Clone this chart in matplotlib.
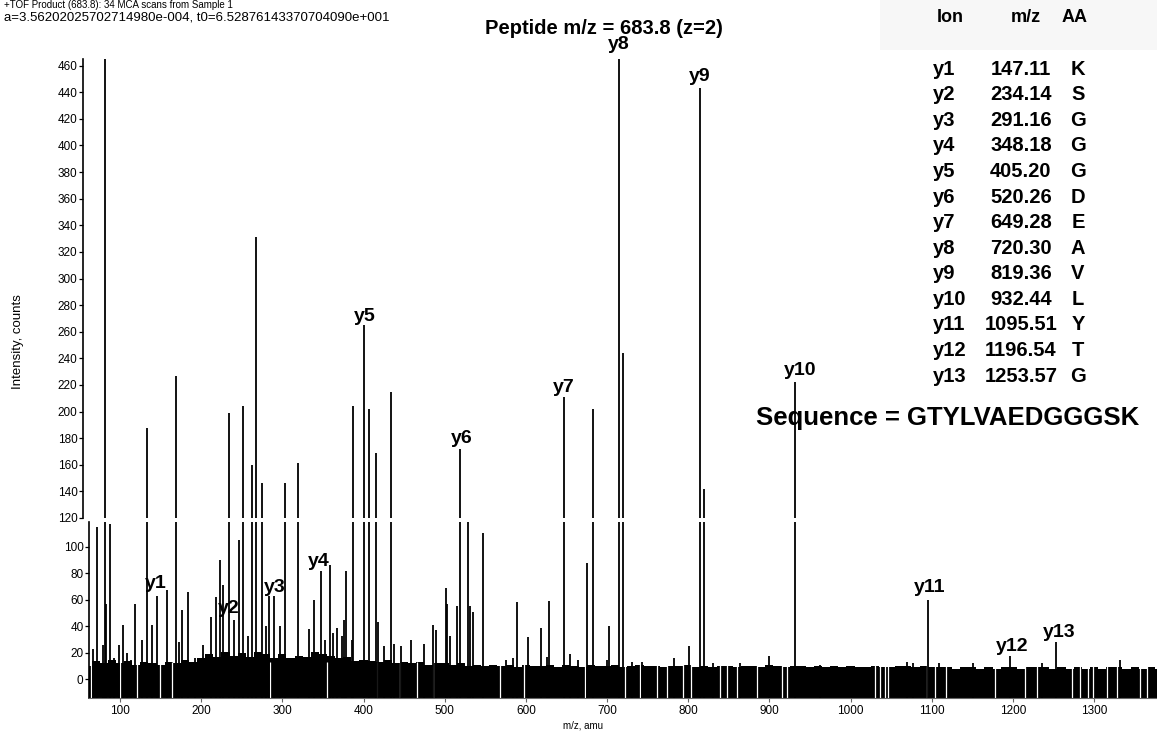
import matplotlib.pyplot as plt
from matplotlib.patches import Rectangle

plt.rcParams['font.family'] = ['Liberation Sans', 'DejaVu Sans']

W, H = 1157, 732

# 峰 (m/z, 强度)
peak_mz = [81.5, 87.7, 132.9, 169.0, 234.3, 251.2, 262.6, 267.6, 274.6, 302.9,
           319.7, 387.4, 401.0, 407.2, 415.0, 433.9, 518.9, 528.4, 647.0, 683.1,
           715.1, 720.1, 814.6, 819.9, 931.6,
           67.1, 71.3, 79.4, 82.8, 92.6, 99.1, 103.3, 108.3, 113.6, 118.5,
           126.7, 139.0, 145.2, 157.5, 172.7, 176.0, 184.1, 192.4, 201.9, 211.8,
           218.3, 223.2, 226.5, 240.4, 247.0, 258.0, 279.5, 283.9, 289.7, 297.1,
           333.2, 339.4, 347.3, 352.6, 358.7, 362.8, 367.7, 373.1, 376.0, 378.1,
           385.8, 417.9, 425.6, 437.9, 446.2, 458.5, 474.9, 485.3, 489.3, 501.3,
           503.2, 506.6, 515.6, 531.2, 534.6, 546.9, 575.6, 584.6, 589.5, 602.3,
           618.7, 625.7, 628.5, 654.4, 664.6, 675.0, 699.6, 702.4, 730.4, 742.7,
           782.5, 801.4, 830.9, 863.8, 899.6, 962.4, 1069.2, 1077.0, 1095.9, 1109.0,
           1151.3, 1196.5, 1235.5, 1253.1, 1332.0]
peak_int = [470, 117, 188, 227, 199, 204, 160, 331, 146, 146,
            161, 204, 265, 202, 169, 215, 172, 119, 211, 202,
            470, 244, 443, 142, 222,
            23, 115, 26, 57, 16, 26, 41, 20, 15, 57,
            30, 41, 63, 67, 28, 52, 66, 16, 26, 47,
            62, 90, 71, 45, 105, 33, 40, 63, 63, 40,
            38, 60, 82, 30, 86, 35, 39, 33, 45, 82,
            30, 43, 25, 27, 25, 30, 27, 41, 37, 69,
            57, 33, 55, 55, 51, 110, 15, 16, 58, 32,
            39, 17, 59, 19, 15, 88, 15, 40, 13, 13,
            16, 25, 12, 12, 18, 11, 13, 12, 60, 12,
            12, 18, 12, 28, 15]

# 噪声带上沿 (每 10 m/z, 从 60 到 1380)
noise_mz = list(range(60, 1390, 10))
noise_top = [10, 14, 12, 15, 12, 14, 11, 13, 12, 11,
             13, 12, 15, 13, 16, 19, 17, 21, 18, 20,
             17, 21, 19, 16, 19, 16, 18, 17, 21, 19,
             18, 16, 17, 14, 15, 14, 13, 15, 12, 13,
             12, 13, 11, 12, 12, 11, 12, 10, 11, 10,
             11, 10, 11, 9, 11, 10, 10, 11, 9, 11,
             10, 9, 11, 10, 10, 11, 9, 10, 11, 10,
             10, 9, 10, 10, 11, 9, 10, 9, 10, 10,
             9, 10, 10, 9, 11, 10, 9, 10, 10, 9,
             10, 9, 10, 9, 10, 9, 9, 10, 9, 9,
             10, 10, 9, 10, 9, 9, 9, 8, 9, 9,
             8, 9, 8, 9, 9, 8, 9, 9, 9, 8,
             9, 8, 9, 8, 9, 8, 9, 9, 8, 9,
             8, 9, 8]

# 噪声带里的白色空隙
gap_mz = [63.9, 100.0, 120.6, 149.3, 163.7, 284.8, 354.7, 416.3, 445.0, 465.5,
          486.0, 568.2, 597.7, 672.9, 722.2, 740.6, 761.2, 773.5, 793.6, 804.0,
          839.2, 847.4, 859.8, 884.4, 915.2, 921.4, 1030.0, 1036.0, 1042.5, 1046.0,
          1093.9, 1104.0, 1117.6, 1178.0, 1215.0, 1229.4, 1272.5, 1282.7, 1292.6,
          1298.7, 1315.6, 1327.9, 1356.6, 1364.9]

ion_names = ['y1', 'y2', 'y3', 'y4', 'y5', 'y6', 'y7', 'y8', 'y9', 'y10', 'y11', 'y12', 'y13']
ion_mz = ['147.11', '234.14', '291.16', '348.18', '405.20', '520.26', '649.28',
          '720.30', '819.36', '932.44', '1095.51', '1196.54', '1253.57']
ion_aa = ['K', 'S', 'G', 'G', 'G', 'D', 'E', 'A', 'V', 'L', 'Y', 'T', 'G']
sequence = 'GTYLVAEDGGGSK'

# 标签位置 (m/z, 强度, 哪个面板)
label_pos = [(144.4, 72.6, 'low'), (233.4, 53.5, 'low'), (291.0, 69.4, 'low'),
             (344.3, 88.7, 'low'), (401.0, 271.3, 'up'), (521.0, 180.0, 'up'),
             (647.0, 218.4, 'up'), (714.8, 476.0, 'up'), (814.6, 451.5, 'up'),
             (937.8, 231.2, 'up'), (1097.9, 69.6, 'low'), (1198.9, 25.0, 'low'),
             (1256.8, 35.7, 'low')]


def fx(px):
    return px / W


def fy(py):
    return 1 - py / H


fig = plt.figure(figsize=(W / 100, H / 100), dpi=100)

ax_up = fig.add_axes([fx(83), fy(518), (1157 - 83) / W, (518 - 59) / H])
ax_low = fig.add_axes([fx(89), fy(698), (1157 - 89) / W, (698 - 522) / H])

ax_up.set_xlim(54.4, 1377.6)
ax_low.set_xlim(61.8, 1377.6)
ax_up.set_ylim(120, 465)
ax_low.set_ylim(-14, 118.6)

# 噪声带
ax_low.fill_between(noise_mz, -14, noise_top, step='mid', color='black', lw=0, zorder=1)
ax_low.vlines(gap_mz, -14, 13, color='white', lw=0.9, zorder=2)

for ax in (ax_up, ax_low):
    ax.vlines(peak_mz, -14, peak_int, color='black', lw=1.3, zorder=3)
    ax.spines['top'].set_visible(False)
    ax.spines['right'].set_visible(False)
    ax.spines['left'].set_linewidth(1.2)
    ax.tick_params(axis='y', labelsize=8.5, length=3, width=0.9, pad=1)

ax_up.spines['bottom'].set_visible(False)
ax_up.set_xticks([])
ax_up.set_yticks(range(120, 461, 20))

ax_low.set_yticks(range(0, 101, 20))
ax_low.set_xticks(range(100, 1301, 100))
ax_low.spines['bottom'].set_color('#666666')
ax_low.tick_params(axis='x', labelsize=8.5, length=3, width=0.8, pad=2, color='#666666')

for name, (x, y, which) in zip(ion_names, label_pos):
    ax = ax_up if which == 'up' else ax_low
    ax.text(x, y, name, ha='center', va='center', fontsize=14, fontweight='bold', zorder=5)

fig.text(fx(583), fy(725), 'm/z, amu', ha='center', va='center', fontsize=7)
fig.text(fx(18), fy(342), 'Intensity, counts', ha='center', va='center', rotation=90, fontsize=9.5)

# 顶部文字
fig.text(fx(4), fy(5), '+TOF Product (683.8): 34 MCA scans from Sample 1', ha='left', va='center', fontsize=7)
fig.text(fx(4), fy(17), 'a=3.56202025702714980e-004, t0=6.52876143370704090e+001',
         ha='left', va='center', fontsize=9.5)
fig.text(fx(604), fy(28), 'Peptide m/z = 683.8 (z=2)', ha='center', va='center',
         fontsize=14.5, fontweight='bold')

fig.patches.append(Rectangle((fx(880), fy(50)), 1 - fx(880), 50 / H, transform=fig.transFigure,
                             facecolor='#f7f7f7', edgecolor='none', zorder=0))

# 离子表
fig.text(fx(950), fy(17), 'Ion', ha='center', va='center', fontsize=13, fontweight='bold')
fig.text(fx(1026), fy(17), 'm/z', ha='center', va='center', fontsize=13, fontweight='bold')
fig.text(fx(1075), fy(17), 'AA', ha='center', va='center', fontsize=13, fontweight='bold')
for i, (n, m, a) in enumerate(zip(ion_names, ion_mz, ion_aa)):
    y = 69.3 + i * 25.56
    fig.text(fx(933), fy(y), n, ha='left', va='center', fontsize=14.5, fontweight='bold')
    fig.text(fx(1021), fy(y), m, ha='center', va='center', fontsize=14.5, fontweight='bold')
    fig.text(fx(1078), fy(y), a, ha='center', va='center', fontsize=14.5, fontweight='bold')

fig.text(fx(948), fy(418), 'Sequence = ' + sequence, ha='center', va='center',
         fontsize=18.5, fontweight='bold')

fig.savefig('out.png', dpi=100, facecolor='white')
